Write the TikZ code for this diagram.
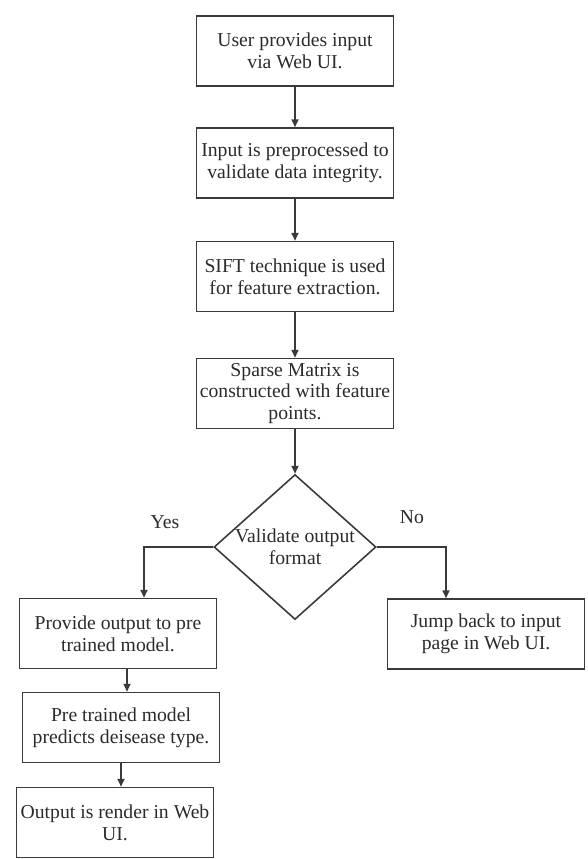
\documentclass[tikz,border=0pt]{standalone}
\usepackage{fontspec}
\setmainfont{Liberation Serif}
\usepackage{xcolor}
\usepackage{tikz}
\usetikzlibrary{arrows.meta,shapes.geometric,positioning}
\definecolor{flowline}{HTML}{3A3A3A}
\definecolor{flowtext}{HTML}{2B2B2B}
\tikzset{
  stepbox/.style={draw=flowline,line width=0.9pt,minimum width=3.94cm,minimum height=1.4cm,align=center,inner sep=2pt,text=flowtext,font=\fontsize{11.2}{12.4}\selectfont},
  decision/.style={diamond,draw=flowline,line width=0.9pt,minimum width=3.24cm,minimum height=2.9cm,aspect=1.1,inner sep=0pt,align=center,text=flowtext,font=\fontsize{11.2}{12.4}\selectfont},
  flowarrow/.style={-{Triangle[length=4.5pt,width=4pt]},flowline,line width=0.9pt},
  branchlabel/.style={text=flowtext,font=\fontsize{11.2}{12.4}\selectfont}
}

\begin{document}
\begin{tikzpicture}
\useasboundingbox (0,0) rectangle (11.76,-17.18);
% main column
\node[stepbox] (input) at (5.9,-1.02) {User provides input\\via Web UI.};
\node[stepbox] (prep) at (5.9,-3.26) {Input is preprocessed to\\validate data integrity.};
\node[stepbox] (sift) at (5.9,-5.53) {SIFT technique is used\\for feature extraction.};
\node[stepbox] (sparse) at (5.9,-7.87) {Sparse Matrix is\\constructed with feature\\points.};
\node[decision] (check) at (5.9,-10.94) {Validate output\\format};
% branches
\node[stepbox] (provide) at (2.36,-12.67) {Provide output to pre\\trained model.};
\node[stepbox] (jump) at (9.72,-12.68) {Jump back to input\\page in Web UI.};
\node[stepbox] (predict) at (2.42,-14.55) {Pre trained model\\predicts deisease type.};
\node[stepbox] (render) at (2.30,-16.45) {Output is render in Web\\UI.};
\node[branchlabel] (yes) at (3.3,-10.44) {Yes};
\node[branchlabel] (no) at (8.24,-10.34) {No};
% connectors
\draw[flowarrow] (input) -- (prep);
\draw[flowarrow] (prep) -- (sift);
\draw[flowarrow] (sift) -- (sparse);
\draw[flowarrow] (sparse) -- (check);
\draw[flowarrow] (check.west) -| ([xshift=0.52cm]provide.north);
\draw[flowarrow] (check.east) -| ([xshift=-0.8cm]jump.north);
\draw[flowarrow] ([xshift=0.18cm]provide.south) -- ([xshift=0.18cm]provide.south |- predict.north);
\draw[flowarrow] (predict.south) -- (predict.south |- render.north);
\end{tikzpicture}
\end{document}
